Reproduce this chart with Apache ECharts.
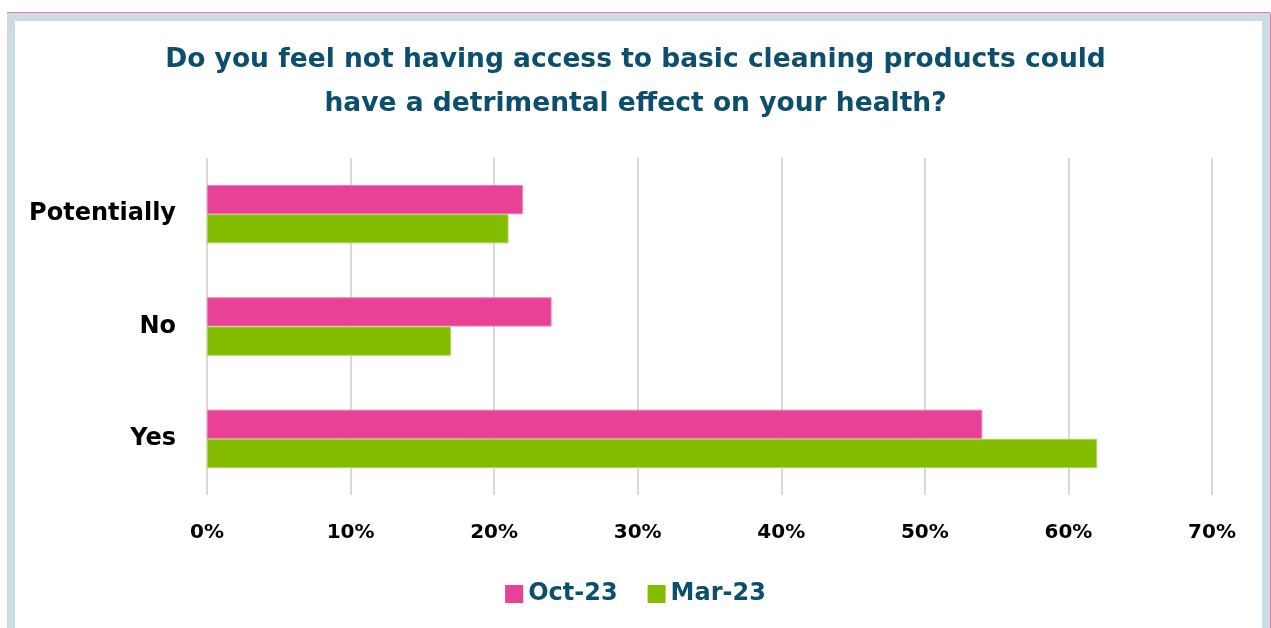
<!DOCTYPE html>
<html>
<head>
<meta charset="utf-8">
<script src="https://cdn.jsdelivr.net/npm/echarts@6/dist/echarts.min.js"></script>
<style>
html,body{margin:0;padding:0;background:#fff;width:1271px;height:628px;overflow:hidden;}
#frame{position:absolute;left:7px;top:13px;width:1247px;height:640px;border:8px solid #CDDCE3;box-shadow:0 -1px 0 #E576AE, 1px 0 0 #E576AE;}
#chart{position:absolute;left:0;top:0;width:1271px;height:628px;}
</style>
</head>
<body>
<div id="frame"></div>
<div id="chart"></div>
<script>
const categories = ['Yes', 'No', 'Potentially'];
const oct23 = [54, 24, 22];
const mar23 = [62, 17, 21];
const xTicks = [0, 10, 20, 30, 40, 50, 60, 70];
const seriesNames = ['Oct-23', 'Mar-23'];
const titleLines = ['Do you feel not having access to basic cleaning products could', 'have a detrimental effect on your health?'];

const chart = echarts.init(document.getElementById('chart'), null, {renderer: 'canvas'});
const titleColor = '#0B4F6C';
const fontFam = '"DejaVu Sans", sans-serif';
const titleStyle = {color: titleColor, fontFamily: fontFam, fontWeight: 'bold', fontSize: 26.5};
chart.setOption({
  animation: false,
  title: [
    {text: titleLines[0], left: 'center', top: 47, padding: 0, textStyle: titleStyle},
    {text: titleLines[1], left: 'center', top: 91, padding: 0, textStyle: titleStyle}
  ],
  legend: {
    data: seriesNames,
    bottom: 17,
    left: 'center',
    itemWidth: 18,
    itemHeight: 18,
    itemGap: 30,
    icon: 'rect',
    itemStyle: {borderWidth: 0},
    textStyle: {color: titleColor, fontFamily: fontFam, fontWeight: 'bold', fontSize: 24}
  },
  grid: {left: 207, right: 59, top: 158, bottom: 133, containLabel: false},
  xAxis: {
    type: 'value',
    min: xTicks[0],
    max: xTicks[xTicks.length - 1],
    interval: 10,
    axisLine: {show: false},
    axisTick: {show: false},
    splitLine: {lineStyle: {color: '#D9D9D9', width: 2}},
    axisLabel: {formatter: '{value}%', color: '#000', fontFamily: fontFam, fontWeight: 'bold', fontSize: 20, margin: 28}
  },
  yAxis: {
    type: 'category',
    data: categories,
    axisLine: {show: false},
    axisTick: {show: false},
    axisLabel: {color: '#000', fontFamily: fontFam, fontWeight: 'bold', fontSize: 24, margin: 31}
  },
  series: [
    {name: seriesNames[0], type: 'bar', data: oct23, barGap: '0%', barCategoryGap: '48%',
     itemStyle: {color: '#E84196', borderColor: '#F07AB5', borderWidth: 1}},
    {name: seriesNames[1], type: 'bar', data: mar23, barGap: '0%', barCategoryGap: '48%',
     itemStyle: {color: '#84BD00', borderColor: '#A6D65A', borderWidth: 1}}
  ]
});
</script>
</body>
</html>
